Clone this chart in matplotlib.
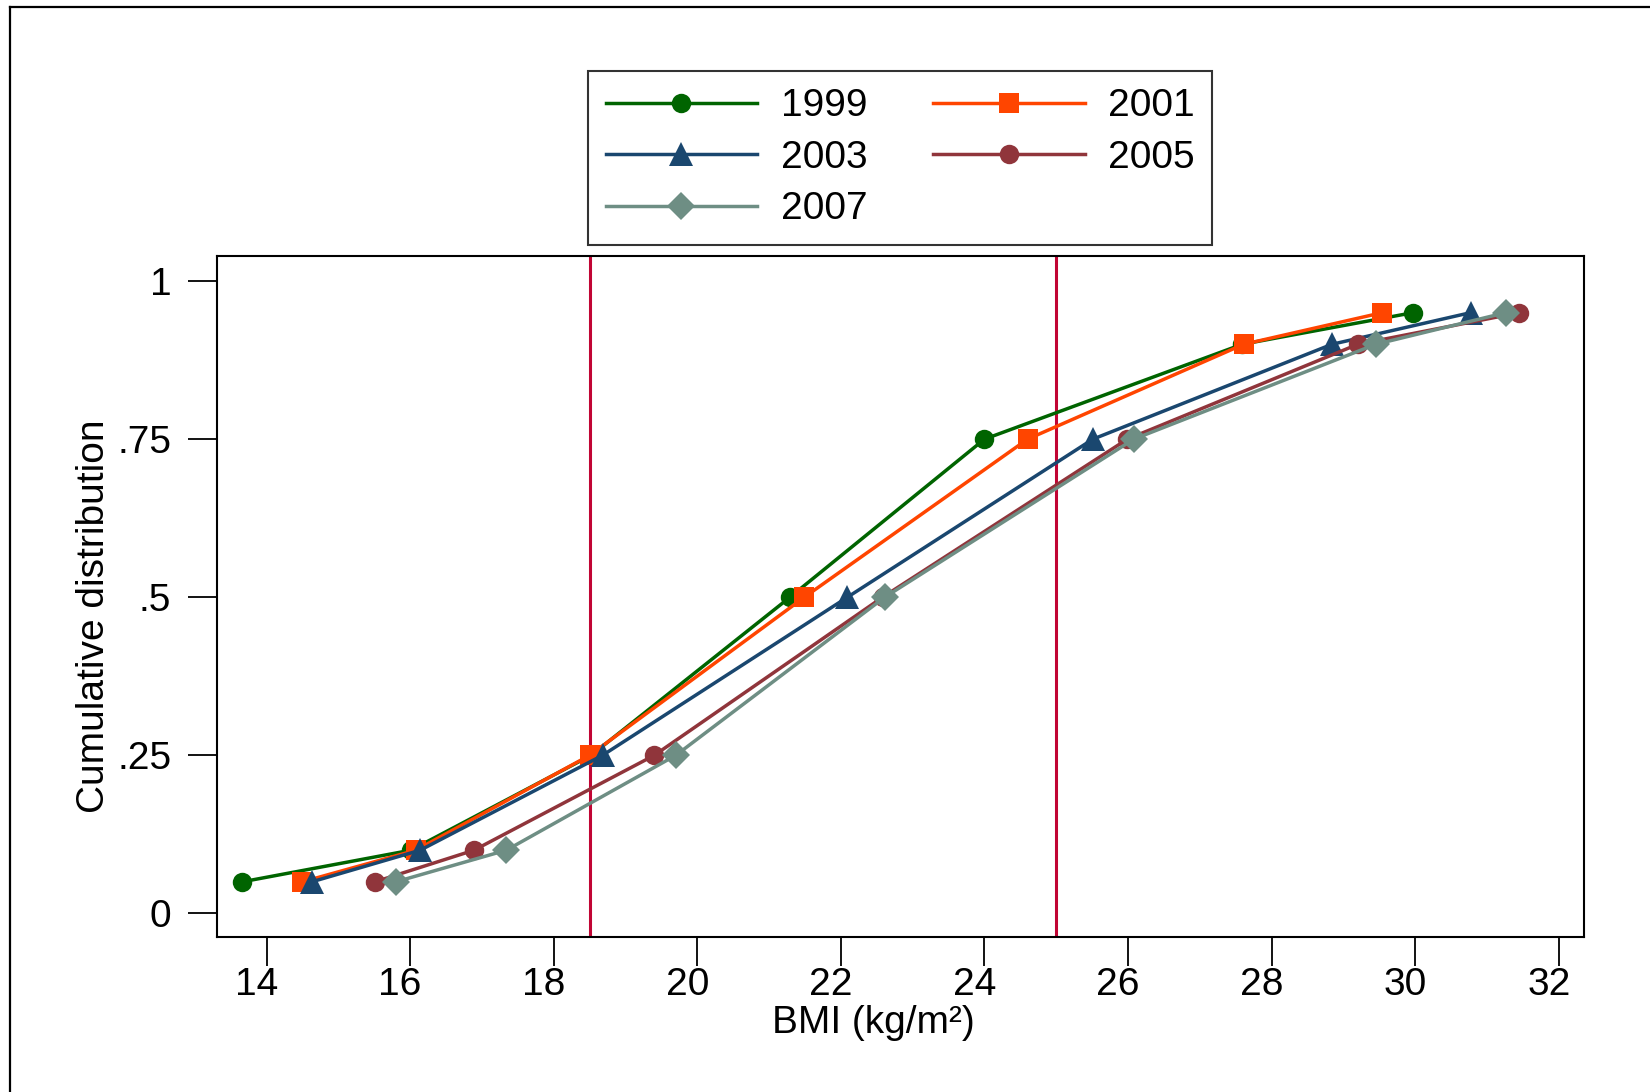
import matplotlib
matplotlib.use("Agg")
import matplotlib.pyplot as plt
import matplotlib.transforms as mtransforms
from matplotlib.lines import Line2D

plt.rcParams['font.family'] = ['Liberation Sans', 'DejaVu Sans']

# cumulative levels (percentiles) shared by every survey year
levels = [0.05, 0.10, 0.25, 0.50, 0.75, 0.90, 0.95]

# BMI value at each percentile
bmi_1999 = [13.66, 16.01, 18.52, 21.29, 24.00, 27.59, 29.97]
bmi_2001 = [14.50, 16.08, 18.50, 21.49, 24.60, 27.61, 29.54]
bmi_2003 = [14.63, 16.14, 18.68, 22.09, 25.51, 28.84, 30.77]
bmi_2005 = [15.51, 16.89, 19.40, 22.58, 25.99, 29.20, 31.45]
bmi_2007 = [15.80, 17.34, 19.70, 22.61, 26.08, 29.45, 31.26]

years = ["1999", "2001", "2003", "2005", "2007"]
cutoffs = [18.5, 25]

x_ticks = [14, 16, 18, 20, 22, 24, 26, 28, 30, 32]
y_ticks = [0, 0.25, 0.5, 0.75, 1]
y_tick_labels = ["0", ".25", ".5", ".75", "1"]

# style per series: colour, marker, marker size
styles = {
    "1999": ("#006400", "o", 14),
    "2001": ("#FF4500", "s", 14),
    "2003": ("#1A476F", "^", 17),
    "2005": ("#90353B", "o", 14),
    "2007": ("#6E8E84", "D", 14),
}
series = {"1999": bmi_1999, "2001": bmi_2001, "2003": bmi_2003,
          "2005": bmi_2005, "2007": bmi_2007}

FS = 28

fig = plt.figure(figsize=(16.5, 10.92), dpi=100)
ax = fig.add_axes([0.1315, 0.1423, 0.8285, 0.6235])

# reference cut-offs for underweight / overweight
for c in cutoffs:
    ax.axvline(c, color="#C10534", lw=2.2, zorder=1)

handles = {}
for y in years:
    col, mk, ms = styles[y]
    ln, = ax.plot(series[y], levels, color=col, marker=mk, markersize=ms,
                  lw=2.5, markeredgewidth=0, zorder=3, label=y)
    handles[y] = ln

ax.set_xlim(13.31, 32.35)
ax.set_ylim(-0.0366, 1.04)
ax.set_xticks(x_ticks)
ax.set_yticks(y_ticks)
ax.set_yticklabels(y_tick_labels)
ax.tick_params(axis="both", labelsize=FS, length=21, width=1.3, color="black")
ax.tick_params(axis="x", pad=1)
ax.tick_params(axis="y", pad=12)
for s in ax.spines.values():
    s.set_linewidth(1.5)

# x tick labels sit a little left of their ticks in the original
shift = mtransforms.ScaledTranslation(-0.10, 0, fig.dpi_scale_trans)
for lab in ax.get_xticklabels():
    lab.set_transform(lab.get_transform() + shift)

ax.set_xlabel("BMI (kg/m²)", fontsize=FS, labelpad=0)
ax.xaxis.set_label_coords(0.48, -0.1)
ax.set_ylabel("Cumulative distribution", fontsize=FS, labelpad=0)
ax.yaxis.set_label_coords(-0.077, 0.47)

# legend filled row-wise: 1999 2001 / 2003 2005 / 2007
order = ["1999", "2003", "2007", "2001", "2005"]
leg = fig.legend([handles[y] for y in order], order, loc="center",
                 bbox_to_anchor=(0.5456, 0.8555), ncol=2, fontsize=FS,
                 frameon=True, fancybox=False, edgecolor="black",
                 handlelength=3.9, handletextpad=0.6, columnspacing=1.7,
                 labelspacing=0.4, borderpad=0.45)
leg.get_frame().set_linewidth(1.5)

# outer graph frame (top and left edges visible)
fig.add_artist(Line2D([10 / 1650, 10 / 1650], [0, 1 - 7 / 1092],
                      transform=fig.transFigure, color="black", lw=1.6))
fig.add_artist(Line2D([10 / 1650, 1], [1 - 7 / 1092, 1 - 7 / 1092],
                      transform=fig.transFigure, color="black", lw=1.6))

fig.savefig("out.png", dpi=100, facecolor="white")
